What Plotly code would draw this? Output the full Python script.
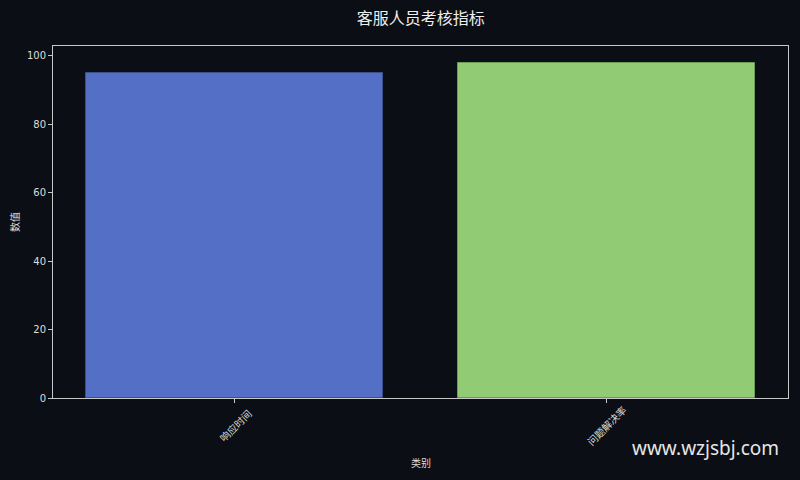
import plotly.graph_objects as go

# 考核数据
categories = ["响应时间", "问题解决率"]
values = [95, 98]
bar_colors = ["#5470c6", "#91cc75"]
edge_colors = ["#3b4f8c", "#6c9a57"]

bg = "#0b0e14"
fg = "#dddddd"
axis_col = "#c8c8c8"
cjk = "Noto Sans CJK SC"

# plot area in pixels (left, right, top, bottom)
L, R, T, B = 53, 788, 46, 398
H = B - T

fig = go.Figure()
fig.add_trace(go.Bar(
    x=list(range(len(categories))),
    y=values,
    width=0.8,
    marker=dict(color=bar_colors, line=dict(color=edge_colors, width=1)),
    showlegend=False,
))

fig.update_layout(
    width=800,
    height=480,
    paper_bgcolor=bg,
    plot_bgcolor=bg,
    margin=dict(l=L, r=800 - R, t=T, b=480 - B),
    font=dict(family=cjk, color=fg, size=10),
    title=dict(
        text="客服人员考核指标",
        x=0.5258,
        xanchor="center",
        y=1 - 18 / 480,
        yanchor="middle",
        font=dict(size=16, color="#eeeeee", family=cjk),
    ),
    bargap=0,
)

fig.update_xaxes(
    range=[-0.49, 1.49],
    tickmode="array",
    tickvals=list(range(len(categories))),
    showticklabels=False,
    ticks="outside",
    ticklen=4,
    tickcolor=axis_col,
    showline=True,
    linecolor=axis_col,
    linewidth=1,
    mirror=True,
    showgrid=False,
    zeroline=False,
)

fig.update_yaxes(
    range=[0, 102.9],
    tickmode="array",
    tickvals=[0, 20, 40, 60, 80, 100],
    ticks="outside",
    ticklen=4,
    tickcolor=axis_col,
    showline=True,
    linecolor=axis_col,
    linewidth=1,
    mirror=True,
    showgrid=False,
    zeroline=False,
    title=dict(text="数值", font=dict(size=10, color=fg), standoff=5),
    tickfont=dict(size=10, color=fg, family="DejaVu Sans"),
)

# 类别标签（旋转45度，居中于刻度）
for i, cat in enumerate(categories):
    fig.add_annotation(
        text=cat,
        xref="x", yref="paper",
        x=i, y=-(425 - B) / H,
        xanchor="center", yanchor="middle",
        textangle=-45,
        showarrow=False,
        font=dict(size=10, color=fg, family=cjk),
    )

fig.add_annotation(
    text="类别",
    xref="paper", yref="paper",
    x=0.5, y=-(462 - B) / H,
    xanchor="center", yanchor="middle",
    showarrow=False,
    font=dict(size=10, color=fg, family=cjk),
)

# 水印
fig.add_annotation(
    text="www.wzjsbj.com",
    xref="paper", yref="paper",
    x=(781 - L) / (R - L),
    y=-(448 - B) / H,
    xanchor="right", yanchor="middle",
    showarrow=False,
    font=dict(size=19, color="#e6e6e6", family="Noto Sans"),
)

fig.write_html(
    "out.html",
    config={"displayModeBar": False},
    post_script="document.body.style.margin='0';document.body.style.background='%s';" % bg,
)
